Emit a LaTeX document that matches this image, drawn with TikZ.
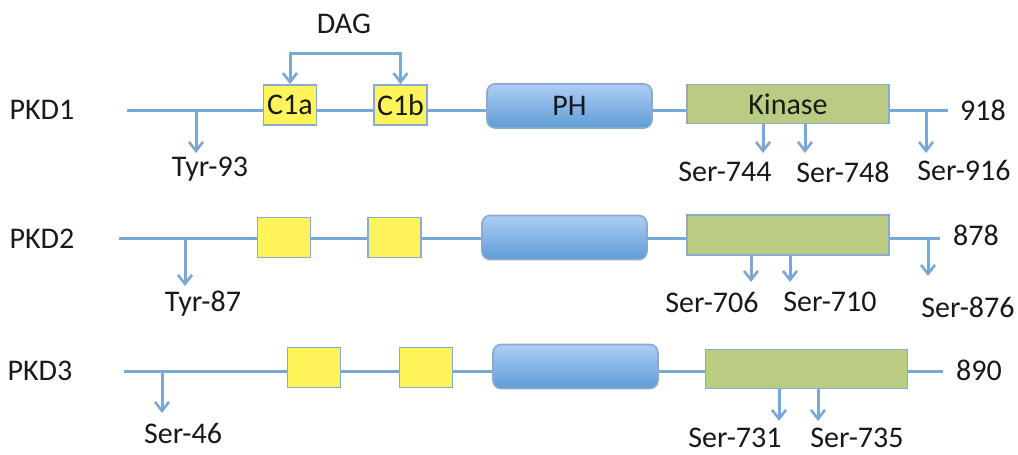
\documentclass[tikz,border=0pt]{standalone}
\usepackage{fontspec}
\setmainfont{Carlito}
\usetikzlibrary{arrows.meta}
\definecolor{lineblue}{RGB}{122,167,212}
\definecolor{boxedge}{RGB}{140,170,205}
\definecolor{cyellow}{RGB}{255,245,90}
\definecolor{kgreen}{RGB}{185,204,130}
\definecolor{phtop}{RGB}{172,206,244}
\definecolor{phbot}{RGB}{95,156,214}
\definecolor{txt}{RGB}{25,25,25}
\tikzset{
  chain/.style={draw=lineblue, line width=1.5pt},
  pa/.style={draw=lineblue, line width=1.5pt, -{Straight Barb[length=4.5pt,width=7pt,line width=1.3pt]}},
  pab/.style={draw=lineblue, line width=1.5pt, {Straight Barb[length=4.5pt,width=7pt,line width=1.3pt]}-{Straight Barb[length=4.5pt,width=7pt,line width=1.3pt]}},
  cbox/.style={draw=boxedge, line width=0.8pt, fill=cyellow, minimum width=26.5pt, minimum height=20pt, inner sep=0pt, font=\fontsize{15}{18}\selectfont, text=txt},
  phbox/.style={draw=boxedge, line width=0.8pt, rounded corners=4pt, top color=phtop, bottom color=phbot, minimum width=82.5pt, minimum height=22pt, inner sep=0pt, font=\fontsize{15}{18}\selectfont, text=txt},
  kbox/.style={draw=boxedge, line width=0.8pt, fill=kgreen, minimum width=101pt, minimum height=19.5pt, inner sep=0pt, font=\fontsize{15}{18}\selectfont, text=txt},
  lbl/.style={font=\fontsize{15}{18}\selectfont, text=txt, inner sep=0pt},
}
\begin{document}
\begin{tikzpicture}[x=0.5pt,y=-0.5pt]
\useasboundingbox (0,0) rectangle (1018,455);
% ---------------- PKD1 ----------------
\coordinate (s1) at (127,110);
\coordinate (e1) at (948,110);
\draw[chain] (s1) -- (e1);
\node[cbox] (c1a) at (290,105) {C1a};
\node[cbox] (c1b) at (400.5,105) {C1b};
\node[phbox] (ph1) at (569.5,106) {PH};
\node[kbox] (k1) at (788,104) {Kinase};
\node[lbl] (n1) at (42,110) {PKD1};
\node[lbl] (len1) at (983,110) {918};
\node[lbl] (dag) at (344,24) {DAG};
\coordinate (dagtop) at (346,53);
\draw[pab] (c1a.north) |- (dagtop) -| (c1b.north);
\coordinate (t1a) at (196,153);
\coordinate (t1b) at (763,153);
\coordinate (t1c) at (805,153);
\coordinate (t1d) at (926,153);
\draw[pa] (t1a |- s1) -- (t1a);
\draw[pa] (t1b |- k1.south) -- (t1b);
\draw[pa] (t1c |- k1.south) -- (t1c);
\draw[pa] (t1d |- s1) -- (t1d);
\node[lbl] (l1a) at (210,169) {Tyr-93};
\node[lbl] (l1b) at (725,172) {Ser-744};
\node[lbl] (l1c) at (843,172) {Ser-748};
\node[lbl] (l1d) at (964,170) {Ser-916};
% ---------------- PKD2 ----------------
\coordinate (s2) at (119,238);
\coordinate (e2) at (940,238);
\draw[chain] (s2) -- (e2);
\node[cbox] (c2a) at (284,237.5) {};
\node[cbox] (c2b) at (394.5,237.5) {};
\node[phbox] (ph2) at (564.5,237.5) {};
\node[kbox, minimum height=20pt] (k2) at (788,235) {};
\node[lbl] (n2) at (42,239) {PKD2};
\node[lbl] (len2) at (976,235) {878};
\coordinate (t2a) at (185,286);
\coordinate (t2b) at (751,282);
\coordinate (t2c) at (790,282);
\coordinate (t2d) at (928,276);
\draw[pa] (t2a |- s2) -- (t2a);
\draw[pa] (t2b |- k2.south) -- (t2b);
\draw[pa] (t2c |- k2.south) -- (t2c);
\draw[pa] (t2d |- s2) -- (t2d);
\node[lbl] (l2a) at (203,304) {Tyr-87};
\node[lbl] (l2b) at (712,302) {Ser-706};
\node[lbl] (l2c) at (830,302) {Ser-710};
\node[lbl] (l2d) at (968,307) {Ser-876};
% ---------------- PKD3 ----------------
\coordinate (s3) at (124,371);
\coordinate (e3) at (943,371);
\draw[chain] (s3) -- (e3);
\node[cbox] (c3a) at (314,367.5) {};
\node[cbox] (c3b) at (426,367.5) {};
\node[phbox] (ph3) at (575.5,366.5) {};
\node[kbox] (k3) at (806.5,369) {};
\node[lbl] (n3) at (40,371) {PKD3};
\node[lbl] (len3) at (979,370) {890};
\coordinate (t3a) at (162,413);
\coordinate (t3b) at (779,421);
\coordinate (t3c) at (818,421);
\draw[pa] (t3a |- s3) -- (t3a);
\draw[pa] (t3b |- k3.south) -- (t3b);
\draw[pa] (t3c |- k3.south) -- (t3c);
\node[lbl] (l3a) at (183,433) {Ser-46};
\node[lbl] (l3b) at (735,438) {Ser-731};
\node[lbl] (l3c) at (857,438) {Ser-735};
\end{tikzpicture}
\end{document}
